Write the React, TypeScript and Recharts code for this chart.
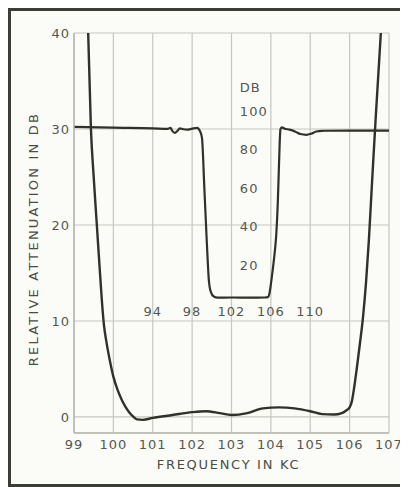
import { ComposedChart, Line, XAxis, YAxis, CartesianGrid, ReferenceDot } from "recharts"

// main passband curve, relative attenuation (left scale) vs frequency in kc
const mainFreq = [
  99.36, 99.43, 99.5, 99.58, 99.66, 99.71, 99.76, 99.82, 99.9, 100.0, 100.1, 100.2, 100.3, 100.4,
  100.5, 100.6, 100.75, 101.0, 101.5, 102.0, 102.35, 102.7, 103.0, 103.4, 103.8, 104.2, 104.6,
  105.0, 105.3, 105.6, 105.8, 105.92, 106.0, 106.06, 106.12, 106.18, 106.26, 106.34, 106.42,
  106.49, 106.57, 106.66, 106.8,
]
const mainDb = [
  40, 30, 25, 20, 15, 12, 9.6, 7.9, 6.1, 4.2, 2.9, 1.9, 1.1, 0.5,
  0.05, -0.25, -0.3, -0.1, 0.2, 0.5, 0.6, 0.4, 0.2, 0.4, 0.9, 1.0, 0.9,
  0.6, 0.3, 0.25, 0.4, 0.7, 1.0, 1.7, 3.2, 5.0, 7.6, 10.4, 14.2,
  18.5, 24.5, 31, 40.5,
]

// inset curve: wide span 94..110 kc, attenuation 0..100 db
const insetFreq = [
  86, 90, 94, 95.5, 95.8, 96.0, 96.25, 96.5, 96.75, 97.1, 97.5, 98.0, 98.5, 98.8, 99.0, 99.25,
  99.5, 99.7, 99.9, 100.2, 100.6, 102, 104, 105.4, 105.7, 105.85, 106.0, 106.2, 106.4, 106.55,
  106.7, 106.8, 106.9, 106.97, 107.1, 107.4, 107.9, 108.5, 109.0, 109.6, 110.1, 110.6, 111.2,
  114, 118,
]
const insetDb = [
  91.7, 91.3, 91.0, 90.7, 91.2, 89.5, 88.6, 89.6, 91.0, 90.5, 90.3, 90.8, 91.2, 89.5, 86, 59,
  31, 12, 6, 3.6, 3.0, 3.1, 3.0, 3.1, 3.3, 5, 10, 18, 27, 36,
  52, 68, 84, 90.5, 91.5, 90.8, 90.3, 89.2, 88, 87.6, 88.2, 89.3, 89.7,
  89.8, 89.8,
]

const freqTicks = [99, 100, 101, 102, 103, 104, 105, 106, 107]
const dbTicks = [0, 10, 20, 30, 40]
const insetFreqLabels = [94, 98, 102, 106, 110]
const insetDbLabels = [20, 40, 60, 80, 100]

const mainData = mainFreq.map((f, i) => ({ f, db: mainDb[i] }))
const insetData = insetFreq.map((f, i) => ({ f, db: insetDb[i] }))

const INK = "#2f3229"
const GRID = "#c6c8bf"
const FONT = "'DejaVu Sans', sans-serif"
const TICK = { fill: "#555850", fontSize: 13, fontFamily: FONT, letterSpacing: 1 }

const YTitle = (props: any) => {
  const { viewBox } = props
  const cx = viewBox.x + 25
  const cy = viewBox.y + viewBox.height / 2 + 6
  return (
    <text
      x={cx}
      y={cy}
      transform={`rotate(-90 ${cx} ${cy})`}
      textAnchor="middle"
      dominantBaseline="central"
      fill="#4a4d45"
      fontSize={13}
      fontFamily={FONT}
      letterSpacing={2.2}
    >
      RELATIVE ATTENUATION IN DB
    </text>
  )
}

export default function App() {
  return (
    <div style={{ position: "relative", width: 400, height: 479, background: "#fbfbf7" }}>
      <ComposedChart width={400} height={479} margin={{ top: 25, right: 19, bottom: 0, left: 0 }}>
        <CartesianGrid xAxisId="main" yAxisId="main" stroke={GRID} strokeWidth={1.2} />
        <XAxis
          xAxisId="main"
          dataKey="f"
          type="number"
          domain={[99, 107]}
          ticks={freqTicks}
          allowDataOverflow
          height={54}
          tickSize={0}
          tickMargin={7}
          tickLine={false}
          axisLine={{ stroke: "#b5b7ae", strokeWidth: 1.4 }}
          tick={TICK}
          label={{
            value: "FREQUENCY IN KC",
            position: "insideBottom",
            offset: 18,
            dx: -3,
            fill: "#4a4d45",
            fontSize: 13,
            fontFamily: FONT,
            letterSpacing: 1.7,
          }}
        />
        <YAxis
          yAxisId="main"
          type="number"
          domain={[-1.67, 40]}
          ticks={dbTicks}
          allowDataOverflow
          width={66}
          tickSize={0}
          tickMargin={4}
          tickLine={false}
          axisLine={{ stroke: "#b5b7ae", strokeWidth: 1.4 }}
          tick={TICK}
          label={<YTitle />}
        />
        <XAxis
          xAxisId="inset"
          orientation="top"
          height={0}
          dataKey="f"
          type="number"
          domain={[86, 118]}
          allowDataOverflow
          hide
        />
        <YAxis
          yAxisId="inset"
          orientation="right"
          width={0}
          type="number"
          domain={[-67.3, 140.5]}
          allowDataOverflow
          hide
        />

        {insetDbLabels.map((v) => (
          <ReferenceDot
            key={"d" + v}
            xAxisId="inset"
            yAxisId="inset"
            x={102.85}
            y={v}
            r={0}
            stroke="none"
            label={{ value: String(v), position: "right", offset: 0, ...TICK }}
          />
        ))}
        <ReferenceDot
          xAxisId="inset"
          yAxisId="inset"
          x={102.85}
          y={112.5}
          r={0}
          stroke="none"
          label={{ value: "DB", position: "right", offset: 0, ...TICK }}
        />
        {insetFreqLabels.map((v) => (
          <ReferenceDot
            key={"f" + v}
            xAxisId="inset"
            yAxisId="inset"
            x={v}
            y={-4}
            r={0}
            stroke="none"
            label={{ value: String(v), position: "center", ...TICK }}
          />
        ))}

        <Line
          xAxisId="inset"
          yAxisId="inset"
          data={insetData}
          dataKey="db"
          type="monotone"
          stroke={INK}
          strokeWidth={2.2}
          dot={false}
          isAnimationActive={false}
        />
        <Line
          xAxisId="main"
          yAxisId="main"
          data={mainData}
          dataKey="db"
          type="monotone"
          stroke={INK}
          strokeWidth={2.4}
          dot={false}
          isAnimationActive={false}
        />
      </ComposedChart>
      <div
        style={{
          position: "absolute",
          left: 0,
          top: 0,
          width: 400,
          height: 479,
          boxSizing: "border-box",
          borderTop: "3px solid #3b3e35",
          borderLeft: "3px solid #3b3e35",
          borderBottom: "3px solid #3b3e35",
          pointerEvents: "none",
        }}
      />
    </div>
  )
}
